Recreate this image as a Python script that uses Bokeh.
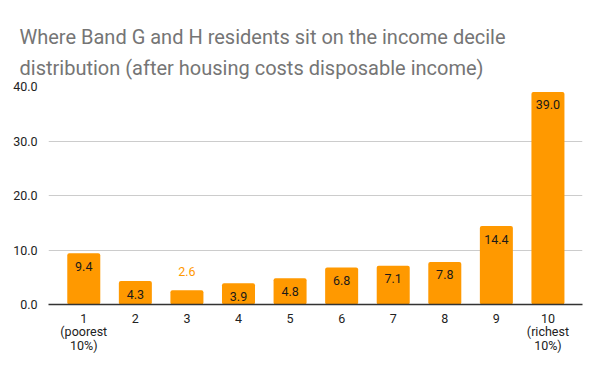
from bokeh.plotting import figure
from bokeh.models import ColumnDataSource, FixedTicker, LabelSet, Title
from bokeh.core.properties import value
from bokeh.embed import file_html
from bokeh.resources import INLINE

deciles = [1, 2, 3, 4, 5, 6, 7, 8, 9, 10]
tick_labels = ["1\n(poorest\n10%)", "2", "3", "4", "5", "6", "7", "8", "9", "10\n(richest\n10%)"]
shares = [9.4, 4.3, 2.6, 3.9, 4.8, 6.8, 7.1, 7.8, 14.4, 39.0]
y_ticks = [0, 10, 20, 30, 40]
title_lines = ["Where Band G and H residents sit on the income decile",
               "distribution (after housing costs disposable income)"]

BAR = "#ff9900"
FONT = "Roboto"

inside = [v >= 3.0 for v in shares]
src = ColumnDataSource(dict(
    x=deciles,
    top=shares,
    txt=[f"{v:.1f}" for v in shares],
    off=[-13 if i else 19 for i in inside],
    col=["#1a1a1a" if i else BAR for i in inside],
))

p = figure(width=600, height=371, output_backend="svg", toolbar_location=None,
           x_range=(0.316, 10.67), y_range=(0, 40),
           min_border_left=48, min_border_right=18, min_border_top=86, min_border_bottom=67)
p.outline_line_color = None
p.background_fill_color = "white"

p.vbar(x="x", top="top", width=0.64, source=src, color=BAR, line_color=None, border_radius=2)

labels = LabelSet(x="x", y="top", text="txt", y_offset="off", source=src,
                  text_align="center", text_baseline="middle", text_color="col",
                  text_font=value(FONT), text_font_size="12.5px")
p.add_layout(labels)

p.xaxis.ticker = FixedTicker(ticks=deciles)
p.xaxis.major_label_overrides = {d: t for d, t in zip(deciles, tick_labels)}
p.xaxis.major_tick_line_color = None
p.xaxis.minor_tick_line_color = None
p.xaxis.axis_line_color = "#333333"
p.xaxis.axis_line_width = 1.5
p.xaxis.major_label_text_font = FONT
p.xaxis.major_label_text_font_size = "12.5px"
p.xaxis.major_label_text_color = "#222222"
p.xaxis.major_label_text_line_height = 0.9
p.xaxis.major_label_standoff = 0

p.yaxis.ticker = FixedTicker(ticks=y_ticks)
p.yaxis.major_label_overrides = {t: f"{t:.1f}" for t in y_ticks}
p.yaxis.major_tick_line_color = None
p.yaxis.minor_tick_line_color = None
p.yaxis.axis_line_color = None
p.yaxis.major_label_text_font = FONT
p.yaxis.major_label_text_font_size = "12.5px"
p.yaxis.major_label_text_color = "#222222"
p.yaxis.major_label_standoff = 5

p.xgrid.grid_line_color = None
p.ygrid.grid_line_color = "#cccccc"
p.ygrid.ticker = FixedTicker(ticks=y_ticks)

p.title = None
p.add_layout(Title(text="\n".join(title_lines), text_font=FONT, text_font_size="20px",
                   text_font_style="normal", text_color="#757575", text_line_height=1.3,
                   align="left", offset=-29, standoff=12), "above")

open("out.html", "w").write(file_html(p, INLINE))
